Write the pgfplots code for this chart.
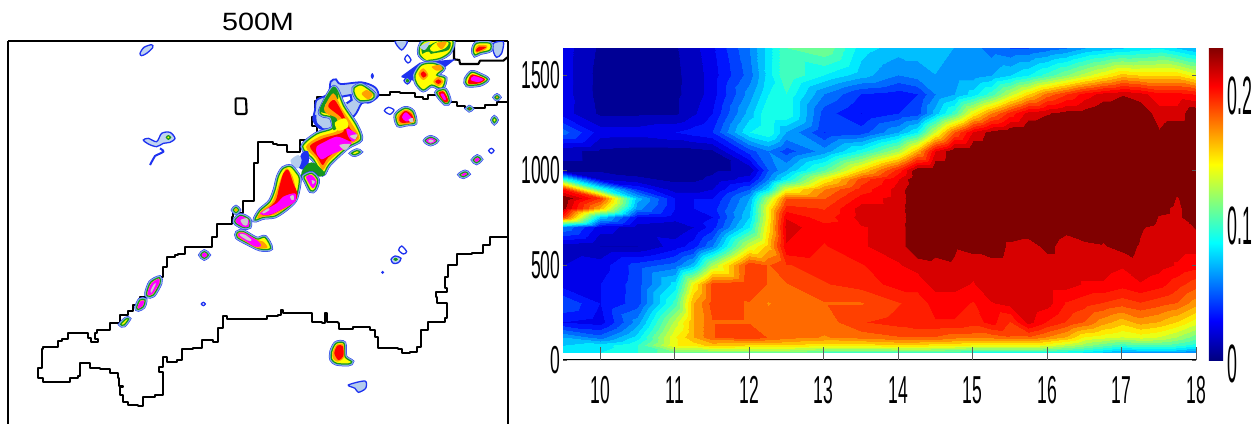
\documentclass[border=0pt]{standalone}
\usepackage{pgfplots}
\pgfplotsset{compat=1.18}
\usepackage{fontspec}
\setmainfont{Liberation Sans}
\newfontfamily\condf[FakeStretch=0.45]{Liberation Sans}
\newfontfamily\condg[FakeStretch=0.33]{Liberation Sans}
\newfontfamily\widef[FakeStretch=1.15]{Liberation Sans}
\definecolor{rimblue}{RGB}{30,50,240}
\definecolor{rimlight}{RGB}{130,170,225}
\definecolor{rimgreen}{RGB}{20,150,30}
\definecolor{ryellow}{RGB}{255,255,0}
\definecolor{rorange}{RGB}{255,160,0}
\definecolor{rred}{RGB}{255,0,0}
\definecolor{rmag}{RGB}{255,0,255}
\definecolor{rgray}{RGB}{205,205,205}
\newcommand\rim[1]{%
 \addplot[draw=rimblue,line width=4.6pt,smooth cycle] coordinates {#1};
 \addplot[draw=rimlight,line width=3.6pt,smooth cycle] coordinates {#1};
 \addplot[draw=rimgreen,fill=ryellow,line width=1.2pt,smooth cycle] coordinates {#1};}
\newcommand\lev[2]{\addplot[fill=#1,draw=none,smooth cycle] coordinates {#2};}
\newcommand\ring[1]{\addplot[draw=rimblue,fill=white,line width=1.3pt,smooth cycle] coordinates {#1};}
\newcommand\ringl[1]{\addplot[draw=rimblue,fill=rimlight!50,line width=1.3pt,smooth cycle] coordinates {#1};}
\begin{document}
\begin{tikzpicture}
\path[use as bounding box] (0,0) rectangle (1259pt,424pt);
% ---------- left map
\begin{axis}[at={(8pt,0pt)},anchor=south west,scale only axis,width=500pt,height=383pt,
 xmin=24,xmax=1524,ymin=123,ymax=1272,y dir=reverse,
 axis x line=top,axis y line=box,ticks=none,
 axis line style={black,line width=1.5pt,-},
 title={\widef\fontsize{25}{25}\selectfont 500M},
 title style={at={(0.5,1)},anchor=south,yshift=1pt}]
\addplot[black,line width=2.1pt,line join=round,const plot] coordinates {(1524,305)(1490,305)(1490,314)(1458,314)(1455,323)(1420,325)(1395,318)(1370,305)(1345,292)(1320,285)(1285,296)(1270,290)(1245,280)(1215,278)(1200,275)(1175,275)(1170,285)(1135,287)(1060,290)(950,303)(945,350)(935,378)(950,395)(985,395)(950,420)(900,455)(875,455)(860,435)(830,432)(820,425)(785,425)(775,435)(775,490)(763,495)(763,602)(730,610)(728,640)(700,650)(695,672)(650,682)(650,710)(635,715)(635,742)(560,742)(555,762)(535,765)(525,772)(503,772)(500,800)(490,810)(490,830)(470,860)(440,890)(420,915)(400,932)(385,945)(360,970)(330,990)(290,1000)(285,1018)(295,1025)(272,1015)(265,1000)(220,998)(205,1018)(185,1022)(175,1040)(130,1048)(125,1105)(115,1115)(115,1135)(130,1147)(205,1147)(210,1135)(235,1128)(240,1090)(250,1088)(270,1105)(300,1108)(330,1120)(355,1135)(358,1158)(368,1162)(360,1185)(368,1205)(385,1215)(415,1217)(430,1190)(465,1185)(490,1160)(490,1115)(478,1100)(490,1070)(500,1085)(530,1080)(545,1048)(580,1045)(605,1020)(640,1025)(655,985)(670,948)(682,958)(795,958)(800,948)(835,945)(842,930)(848,938)(915,938)(935,965)(965,968)(975,938)(982,965)(1015,970)(1018,988)(1050,988)(1060,980)(1110,990)(1125,1010)(1135,1045)(1195,1048)(1205,1058)(1230,1055)(1250,1040)(1262,990)(1285,965)(1335,955)(1340,910)(1310,890)(1308,875)(1340,865)(1335,830)(1345,795)(1370,762)(1415,758)(1450,735)(1470,710)(1524,708)};
\addplot[black,line width=2.1pt,line join=round] coordinates {(1362,123)(1362,178)(1378,180)(1380,192)(1435,192)(1440,182)(1510,182)(1522,172)};
\addplot[black,line width=2.1pt,line join=round,rounded corners=2pt] coordinates {(707,295)(738,295)(740,342)(707,342)(707,295)};
% small blobs: blue
\ringl{(420,160)(432,142)(455,134)(458,143)(440,160)(425,167)}
\addplot[rimblue,line width=2pt,smooth] coordinates {(480,445)(490,455)(465,468)(458,480)(450,495)};
\ringl{(430,420)(445,415)(470,425)(485,400)(510,397)(525,415)(510,427)(490,430)(470,440)(445,432)}
\lev{rimgreen}{(497,412)(505,405)(514,412)(505,420)}
\lev{ryellow}{(502,412)(505,409)(508,412)(505,415)}
\ring{(604,912)(610,907)(616,912)(610,917)}
\lev{rimblue}{(1143,817)(1148,812)(1153,817)(1148,822)}
\ringl{(1173,778)(1185,768)(1203,775)(1195,788)(1180,790)}
\lev{rimgreen}{(1180,778)(1187,773)(1194,778)(1187,783)}
\ring{(1196,750)(1205,738)(1220,755)(1210,762)}
\ring{(1466,452)(1474,445)(1482,452)(1474,460)}
\ring{(1153,332)(1165,322)(1182,330)(1170,343)}
\ring{(1214,177)(1222,165)(1233,180)(1224,189)}
\lev{rimblue}{(1112,228)(1117,219)(1122,228)(1117,237)}
\addplot[draw=rimblue,fill=rimlight!60,line width=1.3pt,smooth cycle] coordinates {(1045,1155)(1095,1143)(1097,1165)(1075,1177)(1065,1165)};
\addplot[draw=rimblue,fill=rimlight!60,line width=1.3pt,smooth cycle] coordinates {(1185,123)(1222,123)(1205,150)};
\addplot[draw=rimblue,fill=rimlight!60,line width=1.3pt,smooth cycle] coordinates {(1480,130)(1510,125)(1505,160)(1490,172)(1480,155)};
% top-right clusters
\addplot[draw=rimblue,fill=rimblue,line width=1.3pt] coordinates {(1205,230)(1260,190)(1360,180)(1270,250)(1240,240)(1205,230)};
\rim{(1258,160)(1272,125)(1355,120)(1350,155)(1320,175)(1280,180)}
\lev{rimgreen}{(1265,140)(1290,135)(1310,125)(1350,125)(1345,150)(1300,160)(1270,165)}
\lev{ryellow}{(1290,145)(1310,127)(1345,127)(1335,145)(1300,155)}
\lev{rorange}{(1310,130)(1340,125)(1325,148)}
\lev{ryellow}{(1265,165)(1285,155)(1295,170)(1280,180)}
\lev{rimlight!60}{(1260,140)(1290,125)(1275,150)}
\rim{(1245,225)(1265,195)(1300,190)(1330,205)(1310,225)(1335,235)(1325,265)(1295,255)(1270,270)(1250,250)}
\lev{rorange}{(1255,222)(1270,205)(1285,225)(1270,240)}
\lev{rred}{(1262,222)(1270,214)(1280,225)(1270,233)}
\lev{rorange}{(1300,245)(1315,230)(1330,245)(1315,258)}
\lev{rred}{(1306,245)(1315,238)(1324,245)(1315,252)}
\lev{rorange}{(1295,200)(1320,195)(1328,208)(1310,212)}
\ringl{(1212,242)(1222,232)(1232,242)(1222,252)}
\lev{rimgreen}{(1217,242)(1222,236)(1228,242)(1222,248)}
\rim{(1310,278)(1335,270)(1348,303)(1335,310)}
\lev{rred}{(1315,279)(1332,275)(1345,302)(1334,307)}
\lev{rmag}{(1322,283)(1330,281)(1338,298)(1332,300)}
\rim{(1420,150)(1430,130)(1470,130)(1470,150)(1440,158)(1425,165)}
\lev{rorange}{(1425,148)(1435,135)(1462,137)(1455,150)(1430,158)}
\lev{rred}{(1428,150)(1438,140)(1458,142)(1432,155)}
\rim{(1398,238)(1415,217)(1440,225)(1462,238)(1440,253)(1402,255)}
\lev{rred}{(1405,240)(1417,223)(1455,237)(1438,250)(1406,252)}
\lev{rmag}{(1412,240)(1421,228)(1450,238)(1434,246)}
\rim{(1188,345)(1215,325)(1238,335)(1245,368)(1220,372)(1195,375)}
\lev{rorange}{(1192,348)(1215,329)(1236,338)(1243,366)(1200,373)}
\lev{rred}{(1198,352)(1215,333)(1234,342)(1240,364)(1203,368)}
\lev{rmag}{(1206,352)(1218,337)(1237,358)(1218,364)}
\lev{rgray}{(1226,358)(1238,354)(1240,366)(1230,366)}
\rim{(1276,422)(1292,412)(1310,422)(1292,432)}
\lev{rmag}{(1278,422)(1292,414)(1308,422)(1292,431)}
\lev{rgray}{(1284,423)(1292,418)(1302,423)(1292,428)}
\rim{(1420,480)(1432,470)(1442,478)(1430,488)}
\lev{rmag}{(1423,480)(1432,473)(1439,478)(1430,486)}
\rim{(1380,524)(1395,516)(1404,522)(1390,530)}
\lev{rmag}{(1384,524)(1395,518)(1401,522)(1390,528)}
\rim{(1478,360)(1483,353)(1489,360)(1483,368)}
\rim{(1403,326)(1408,322)(1414,326)(1408,330)}
\lev{rred}{(1406,326)(1408,324)(1411,326)(1408,328)}
\rim{(1485,292)(1491,287)(1497,292)(1491,297)}
\lev{rorange}{(1488,292)(1491,289)(1494,292)(1491,295)}
% main storm: upper part
\addplot[draw=rimblue,fill=rimlight!60,line width=1.8pt,smooth cycle] coordinates {(950,300)(985,282)(992,245)(1008,238)(1022,252)(1085,247)(1125,262)(1135,287)(1110,307)(1085,310)(1062,348)(1000,385)(960,385)(940,360)(945,330)};
\addplot[draw=none,fill=white] coordinates {(1030,288)(1050,288)(1050,305)(1030,305)};
\addplot[rimblue,line width=2pt] coordinates {(1025,290)(1052,285)(1055,300)(1040,310)};
\addplot[rimblue,line width=2.5pt,smooth] coordinates {(945,345)(948,370)(965,385)};
\rim{(962,330)(1002,262)(1032,320)(1068,375)(1082,418)(1042,442)(988,492)(968,522)(942,480)(908,440)(950,402)(998,385)(993,352)(968,345)}
\addplot[draw=none,fill=rimgreen,smooth cycle] coordinates {(958,330)(1000,260)(1015,295)(985,305)(975,320)(1005,345)(1015,375)(1000,390)(990,345)};
\lev{rorange}{(972,325)(1000,280)(1025,325)(1058,375)(1078,415)(1040,438)(988,482)(968,510)(948,476)(918,440)(958,410)(1012,392)(1010,355)(982,342)}
\lev{rred}{(985,320)(1003,300)(1028,340)(1050,385)(1072,412)(1035,433)(985,472)(968,495)(952,470)(930,438)(970,415)(1030,395)(1025,355)}
\lev{ryellow}{(1005,368)(1035,355)(1045,380)(1015,392)}
\lev{rmag}{(950,440)(975,425)(1010,410)(1040,420)(1055,430)(1030,448)(990,465)(965,478)(950,460)}
\lev{rmag}{(1040,385)(1070,403)(1060,425)(1045,410)}
\lev{rgray}{(1050,408)(1072,403)(1065,418)}
\lev{rgray}{(1018,435)(1050,432)(1035,450)}
\rim{(1062,265)(1085,255)(1122,282)(1115,298)(1080,302)(1065,285)}
\lev{rorange}{(1085,282)(1100,270)(1118,283)(1105,298)}
\lev{rimblue}{(895,500)(905,460)(925,455)(925,500)(915,510)}
\lev{rimlight!60}{(872,480)(895,465)(905,480)(895,505)(880,500)}
\rim{(1055,460)(1070,452)(1080,456)(1065,464)}
% main storm: lower part
\addplot[draw=none,fill=rimgreen,smooth cycle] coordinates {(905,515)(925,490)(945,490)(975,520)(960,530)(925,520)(905,535)};
\rim{(765,660)(780,632)(810,605)(825,570)(835,530)(850,505)(872,500)(890,520)(898,535)(895,565)(885,600)(860,625)(825,648)(790,652)}
\lev{rorange}{(772,654)(785,632)(815,608)(830,572)(845,530)(860,505)(878,530)(888,575)(882,605)(857,625)(825,644)(790,650)}
\lev{rred}{(785,642)(825,605)(838,560)(850,520)(865,510)(880,550)(892,580)(885,605)(850,625)(810,645)}
\lev{rmag}{(780,640)(830,610)(850,590)(885,580)(885,605)(850,625)(810,644)}
\lev{rgray}{(787,637)(805,625)(808,630)(792,640)}
\lev{rgray}{(870,590)(880,585)(882,598)(875,600)}
\rim{(912,530)(935,520)(953,540)(945,568)(932,572)(918,545)}
\lev{rmag}{(918,532)(935,525)(950,545)(938,565)}
\lev{rgray}{(935,540)(945,545)(938,553)}
% coastal blobs
\rim{(700,630)(708,622)(716,630)(708,638)}
\lev{rorange}{(704,630)(708,626)(712,630)(708,634)}
\rim{(705,660)(722,646)(747,658)(748,680)(730,682)(708,670)}
\lev{rmag}{(707,660)(722,648)(746,660)(746,680)(730,681)(710,669)}
\lev{rgray}{(722,660)(742,655)(742,675)(730,675)}
\rim{(712,698)(730,695)(770,717)(795,712)(812,745)(780,747)(740,728)(712,712)}
\lev{rorange}{(714,699)(730,696)(770,719)(790,725)(802,743)(770,744)(740,727)(714,711)}
\lev{rmag}{(715,701)(732,698)(775,724)(783,738)(765,740)(740,725)(715,709)}
\lev{rgray}{(720,702)(735,704)(755,720)(745,722)(722,708)}
\rim{(602,765)(613,755)(625,765)(613,775)}
\lev{rmag}{(605,765)(613,757)(622,765)(613,773)}
\rim{(440,878)(452,847)(478,833)(480,850)(460,885)(443,888)}
\lev{rmag}{(443,876)(454,850)(476,836)(478,850)(458,882)(444,886)}
\lev{rgray}{(452,872)(460,855)(468,850)(455,878)}
\rim{(410,922)(420,900)(435,900)(430,920)(415,928)}
\lev{rmag}{(413,920)(422,903)(433,902)(428,918)(415,926)}
\rim{(362,973)(378,957)(386,957)(372,975)}
\rim{(995,1055)(1008,1030)(1032,1030)(1035,1070)(1055,1085)(1045,1092)(1010,1090)(995,1078)}
\lev{rorange}{(998,1058)(1010,1034)(1030,1034)(1032,1072)(1012,1085)(999,1075)}
\lev{rred}{(1003,1060)(1012,1037)(1028,1038)(1030,1068)(1015,1080)}
\end{axis}
% ---------- right contour plot
\begin{axis}[at={(563pt,64pt)},anchor=south west,scale only axis,width=633pt,height=312pt,
 xmin=9.5,xmax=18,ymin=0,ymax=1642,view={0}{90},axis on top,
 axis line style={draw=none},
 xtick={10,11,12,13,14,15,16,17,18},xticklabels={10,11,12,13,14,15,16,17,18},
 ytick={0,500,1000,1500},yticklabels={0,500,1000,1500},
 xtick pos=bottom,
 xtick style={/pgfplots/major tick length=13pt,black!65,line width=0.5pt},
 ytick style={/pgfplots/major tick length=4pt,black!65,line width=0.5pt},
 xticklabel style={font=\condf\fontsize{39}{39}\selectfont,yshift=-13pt},
 yticklabel style={font=\condf\fontsize{39}{39}\selectfont,xshift=1pt},
 colormap={bands}{rgb255(0pt)=(0,0,149) rgb255(9.9pt)=(0,0,149) rgb255(10pt)=(0,0,192) rgb255(19.9pt)=(0,0,192) rgb255(20pt)=(0,0,234) rgb255(29.9pt)=(0,0,234) rgb255(30pt)=(0,21,255) rgb255(39.9pt)=(0,21,255) rgb255(40pt)=(0,64,255) rgb255(49.9pt)=(0,64,255) rgb255(50pt)=(0,106,255) rgb255(59.9pt)=(0,106,255) rgb255(60pt)=(0,149,255) rgb255(69.9pt)=(0,149,255) rgb255(70pt)=(0,191,255) rgb255(79.9pt)=(0,191,255) rgb255(80pt)=(0,234,255) rgb255(89.9pt)=(0,234,255) rgb255(90pt)=(21,255,234) rgb255(99.9pt)=(21,255,234) rgb255(100pt)=(64,255,191) rgb255(109.9pt)=(64,255,191) rgb255(110pt)=(106,255,149) rgb255(119.9pt)=(106,255,149) rgb255(120pt)=(149,255,106) rgb255(129.9pt)=(149,255,106) rgb255(130pt)=(191,255,64) rgb255(139.9pt)=(191,255,64) rgb255(140pt)=(234,255,21) rgb255(149.9pt)=(234,255,21) rgb255(150pt)=(255,234,0) rgb255(159.9pt)=(255,234,0) rgb255(160pt)=(255,191,0) rgb255(169.9pt)=(255,191,0) rgb255(170pt)=(255,149,0) rgb255(179.9pt)=(255,149,0) rgb255(180pt)=(255,106,0) rgb255(189.9pt)=(255,106,0) rgb255(190pt)=(255,64,0) rgb255(199.9pt)=(255,64,0) rgb255(200pt)=(255,30,0) rgb255(209.9pt)=(255,30,0) rgb255(210pt)=(255,0,0) rgb255(219.9pt)=(255,0,0) rgb255(220pt)=(215,0,0) rgb255(229.9pt)=(215,0,0) rgb255(230pt)=(128,0,0) rgb255(240pt)=(128,0,0)},
 point meta min=0,point meta max=0.241,
 colorbar,
 colorbar style={colormap/jet,at={(1.0205,0)},anchor=south west,width=18pt,height=313pt,
  ytick={0.1,0.2},yticklabels={0.1,0.2},axis line style={draw=none},
  major tick length=0pt,ymin=0,ymax=0.241,
  yticklabel style={font=\condg\fontsize{54}{54}\selectfont,xshift=-3pt,yshift=4pt},
  extra y ticks={0},extra y tick labels={0},
  extra y tick style={yticklabel style={yshift=-8pt}}}]
\addplot3[surf,shader=interp,mesh/cols=28] table[row sep=\\] {
x y z\\
9.5 40 .085\\10 40 .09\\10.5 40 .1\\11 40 .12\\11.25 40 .12\\11.5 40 .12\\12 40 .12\\12.25 40 .12\\12.5 40 .12\\13 40 .11\\13.5 40 .11\\14 40 .11\\14.25 40 .11\\14.5 40 .11\\14.75 40 .105\\15 40 .1\\15.25 40 .1\\15.5 40 .1\\15.75 40 .1\\16 40 .1\\16.25 40 .095\\16.5 40 .09\\16.75 40 .08\\17 40 .07\\17.25 40 .07\\17.5 40 .07\\17.75 40 .07\\18 40 .06\\
9.5 80 .08\\10 80 .085\\10.5 80 .1\\11 80 .15\\11.25 80 .155\\11.5 80 .165\\12 80 .16\\12.25 80 .16\\12.5 80 .16\\13 80 .155\\13.5 80 .155\\14 80 .16\\14.25 80 .16\\14.5 80 .155\\14.75 80 .155\\15 80 .15\\15.25 80 .15\\15.5 80 .15\\15.75 80 .15\\16 80 .145\\16.25 80 .135\\16.5 80 .125\\16.75 80 .115\\17 80 .105\\17.25 80 .11\\17.5 80 .11\\17.75 80 .105\\18 80 .095\\
9.5 120 .07\\10 120 .055\\10.5 120 .085\\11 120 .15\\11.25 120 .17\\11.5 120 .19\\12 120 .2\\12.25 120 .19\\12.5 120 .185\\13 120 .18\\13.5 120 .185\\14 120 .19\\14.25 120 .19\\14.5 120 .19\\14.75 120 .185\\15 120 .185\\15.25 120 .185\\15.5 120 .19\\15.75 120 .19\\16 120 .18\\16.25 120 .17\\16.5 120 .15\\16.75 120 .145\\17 120 .14\\17.25 120 .145\\17.5 120 .14\\17.75 120 .13\\18 120 .115\\
9.5 200 .03\\10 200 .025\\10.5 200 .065\\11 200 .135\\11.25 200 .17\\11.5 200 .19\\12 200 .19\\12.25 200 .185\\12.5 200 .19\\13 200 .185\\13.5 200 .2\\14 200 .205\\14.25 200 .21\\14.5 200 .21\\14.75 200 .21\\15 200 .205\\15.25 200 .215\\15.5 200 .2\\15.75 200 .225\\16 200 .21\\16.25 200 .2\\16.5 200 .19\\16.75 200 .175\\17 200 .165\\17.25 200 .175\\17.5 200 .17\\17.75 200 .16\\18 200 .145\\
9.5 300 .05\\10 300 .03\\10.5 300 .045\\11 300 .105\\11.25 300 .17\\11.5 300 .195\\12 300 .19\\12.25 300 .18\\12.5 300 .185\\13 300 .19\\13.5 300 .19\\14 300 .2\\14.25 300 .205\\14.5 300 .215\\14.75 300 .215\\15 300 .21\\15.25 300 .22\\15.5 300 .225\\15.75 300 .23\\16 300 .225\\16.25 300 .21\\16.5 300 .205\\16.75 300 .2\\17 300 .195\\17.25 300 .2\\17.5 300 .195\\17.75 300 .19\\18 300 .175\\
9.5 400 .025\\10 400 .03\\10.5 400 .045\\11 400 .085\\11.25 400 .15\\11.5 400 .195\\12 400 .2\\12.25 400 .19\\12.5 400 .19\\13 400 .2\\13.5 400 .205\\14 400 .215\\14.25 400 .215\\14.5 400 .225\\14.75 400 .225\\15 400 .22\\15.25 400 .23\\15.5 400 .23\\15.75 400 .23\\16 400 .225\\16.25 400 .225\\16.5 400 .22\\16.75 400 .22\\17 400 .215\\17.25 400 .22\\17.5 400 .215\\17.75 400 .205\\18 400 .195\\
9.5 500 .02\\10 500 .025\\10.5 500 .045\\11 500 .055\\11.25 500 .075\\11.5 500 .13\\12 500 .2\\12.25 500 .19\\12.5 500 .2\\13 500 .205\\13.5 500 .21\\14 500 .22\\14.25 500 .225\\14.5 500 .228\\14.75 500 .23\\15 500 .225\\15.25 500 .225\\15.5 500 .225\\15.75 500 .228\\16 500 .225\\16.25 500 .225\\16.5 500 .225\\16.75 500 .225\\17 500 .222\\17.25 500 .228\\17.5 500 .225\\17.75 500 .22\\18 500 .215\\
9.5 600 .015\\10 600 .01\\10.5 600 .01\\11 600 .025\\11.25 600 .035\\11.5 600 .06\\12 600 .14\\12.25 600 .165\\12.5 600 .22\\13 600 .21\\13.5 600 .22\\14 600 .225\\14.25 600 .245\\14.5 600 .235\\14.75 600 .232\\15 600 .235\\15.25 600 .24\\15.5 600 .228\\15.75 600 .225\\16 600 .235\\16.25 600 .225\\16.5 600 .228\\16.75 600 .23\\17 600 .235\\17.25 600 .23\\17.5 600 .225\\17.75 600 .225\\18 600 .225\\
9.5 700 .06\\10 700 .025\\10.5 700 .015\\11 700 .012\\11.25 700 .02\\11.5 700 .035\\12 700 .09\\12.25 700 .155\\12.5 700 .225\\13 700 .215\\13.5 700 .22\\14 700 .225\\14.25 700 .245\\14.5 700 .245\\14.75 700 .245\\15 700 .245\\15.25 700 .245\\15.5 700 .245\\15.75 700 .24\\16 700 .245\\16.25 700 .235\\16.5 700 .24\\16.75 700 .235\\17 700 .245\\17.25 700 .232\\17.5 700 .228\\17.75 700 .225\\18 700 .232\\
9.5 750 .2\\10 750 .08\\10.5 750 .03\\11 750 .025\\11.25 750 .025\\11.5 750 .03\\12 750 .08\\12.25 750 .15\\12.5 750 .22\\13 750 .205\\13.5 750 .225\\14 750 .225\\14.25 750 .245\\14.5 750 .245\\14.75 750 .245\\15 750 .245\\15.25 750 .245\\15.5 750 .245\\15.75 750 .245\\16 750 .245\\16.25 750 .245\\16.5 750 .245\\16.75 750 .245\\17 750 .245\\17.25 750 .245\\17.5 750 .23\\17.75 750 .228\\18 750 .24\\
9.5 800 .235\\10 800 .17\\10.5 800 .065\\11 800 .03\\11.25 800 .03\\11.5 800 .035\\12 800 .075\\12.25 800 .15\\12.5 800 .205\\13 800 .2\\13.5 800 .225\\14 800 .225\\14.25 800 .245\\14.5 800 .245\\14.75 800 .245\\15 800 .245\\15.25 800 .245\\15.5 800 .245\\15.75 800 .245\\16 800 .245\\16.25 800 .245\\16.5 800 .245\\16.75 800 .245\\17 800 .245\\17.25 800 .245\\17.5 800 .235\\17.75 800 .228\\18 800 .245\\
9.5 850 .245\\10 850 .2\\10.5 850 .075\\11 850 .03\\11.25 850 .03\\11.5 850 .03\\12 850 .07\\12.25 850 .13\\12.5 850 .19\\13 850 .19\\13.5 850 .215\\14 850 .225\\14.25 850 .245\\14.5 850 .245\\14.75 850 .245\\15 850 .245\\15.25 850 .245\\15.5 850 .245\\15.75 850 .245\\16 850 .245\\16.25 850 .245\\16.5 850 .245\\16.75 850 .245\\17 850 .245\\17.25 850 .245\\17.5 850 .245\\17.75 850 .23\\18 850 .245\\
9.5 900 .21\\10 900 .1\\10.5 900 .04\\11 900 .015\\11.25 900 .015\\11.5 900 .02\\12 900 .05\\12.25 900 .085\\12.5 900 .145\\13 900 .18\\13.5 900 .205\\14 900 .225\\14.25 900 .245\\14.5 900 .245\\14.75 900 .245\\15 900 .245\\15.25 900 .245\\15.5 900 .245\\15.75 900 .245\\16 900 .245\\16.25 900 .245\\16.5 900 .245\\16.75 900 .245\\17 900 .245\\17.25 900 .245\\17.5 900 .245\\17.75 900 .235\\18 900 .245\\
9.5 950 .1\\10 950 .02\\10.5 950 .012\\11 950 .008\\11.25 950 .008\\11.5 950 .012\\12 950 .025\\12.25 950 .06\\12.5 950 .09\\13 950 .15\\13.5 950 .195\\14 950 .22\\14.25 950 .245\\14.5 950 .245\\14.75 950 .245\\15 950 .245\\15.25 950 .245\\15.5 950 .245\\15.75 950 .245\\16 950 .245\\16.25 950 .245\\16.5 950 .245\\16.75 950 .245\\17 950 .245\\17.25 950 .245\\17.5 950 .245\\17.75 950 .245\\18 950 .245\\
9.5 1000 .008\\10 1000 .008\\10.5 1000 .006\\11 1000 .006\\11.25 1000 .006\\11.5 1000 .008\\12 1000 .012\\12.25 1000 .05\\12.5 1000 .07\\13 1000 .11\\13.5 1000 .16\\14 1000 .205\\14.25 1000 .24\\14.5 1000 .245\\14.75 1000 .245\\15 1000 .245\\15.25 1000 .245\\15.5 1000 .245\\15.75 1000 .245\\16 1000 .245\\16.25 1000 .245\\16.5 1000 .245\\16.75 1000 .245\\17 1000 .245\\17.25 1000 .245\\17.5 1000 .245\\17.75 1000 .245\\18 1000 .245\\
9.5 1100 .012\\10 1100 .008\\10.5 1100 .006\\11 1100 .006\\11.25 1100 .006\\11.5 1100 .008\\12 1100 .045\\12.25 1100 .06\\12.5 1100 .045\\13 1100 .065\\13.5 1100 .095\\14 1100 .13\\14.25 1100 .17\\14.5 1100 .22\\14.75 1100 .24\\15 1100 .245\\15.25 1100 .245\\15.5 1100 .245\\15.75 1100 .245\\16 1100 .245\\16.25 1100 .245\\16.5 1100 .245\\16.75 1100 .245\\17 1100 .245\\17.25 1100 .245\\17.5 1100 .245\\17.75 1100 .245\\18 1100 .245\\
9.5 1200 .055\\10 1200 .025\\10.5 1200 .025\\11 1200 .03\\11.25 1200 .035\\11.5 1200 .04\\12 1200 .09\\12.25 1200 .1\\12.5 1200 .07\\13 1200 .04\\13.5 1200 .045\\14 1200 .07\\14.25 1200 .09\\14.5 1200 .14\\14.75 1200 .19\\15 1200 .222\\15.25 1200 .235\\15.5 1200 .24\\15.75 1200 .245\\16 1200 .245\\16.25 1200 .245\\16.5 1200 .245\\16.75 1200 .245\\17 1200 .245\\17.25 1200 .245\\17.5 1200 .232\\17.75 1200 .24\\18 1200 .245\\
9.5 1300 .025\\10 1300 .008\\10.5 1300 .008\\11 1300 .008\\11.25 1300 .018\\11.5 1300 .03\\12 1300 .075\\12.25 1300 .1\\12.5 1300 .1\\13 1300 .045\\13.5 1300 .03\\14 1300 .04\\14.25 1300 .045\\14.5 1300 .075\\14.75 1300 .105\\15 1300 .15\\15.25 1300 .18\\15.5 1300 .205\\15.75 1300 .225\\16 1300 .23\\16.25 1300 .235\\16.5 1300 .235\\16.75 1300 .245\\17 1300 .245\\17.25 1300 .24\\17.5 1300 .225\\17.75 1300 .225\\18 1300 .24\\
9.5 1400 .025\\10 1400 .006\\10.5 1400 .006\\11 1400 .008\\11.25 1400 .014\\11.5 1400 .025\\12 1400 .065\\12.25 1400 .09\\12.5 1400 .1\\13 1400 .06\\13.5 1400 .04\\14 1400 .035\\14.25 1400 .04\\14.5 1400 .06\\14.75 1400 .07\\15 1400 .085\\15.25 1400 .105\\15.5 1400 .135\\15.75 1400 .16\\16 1400 .185\\16.25 1400 .2\\16.5 1400 .215\\16.75 1400 .225\\17 1400 .23\\17.25 1400 .225\\17.5 1400 .215\\17.75 1400 .215\\18 1400 .21\\
9.5 1500 .025\\10 1500 .006\\10.5 1500 .006\\11 1500 .008\\11.25 1500 .014\\11.5 1500 .025\\12 1500 .055\\12.25 1500 .085\\12.5 1500 .11\\13 1500 .09\\13.5 1500 .075\\14 1500 .06\\14.25 1500 .065\\14.5 1500 .07\\14.75 1500 .065\\15 1500 .065\\15.25 1500 .07\\15.5 1500 .08\\15.75 1500 .09\\16 1500 .105\\16.25 1500 .12\\16.5 1500 .135\\16.75 1500 .15\\17 1500 .165\\17.25 1500 .16\\17.5 1500 .16\\17.75 1500 .16\\18 1500 .145\\
9.5 1642 .025\\10 1642 .008\\10.5 1642 .008\\11 1642 .009\\11.25 1642 .016\\11.5 1642 .028\\12 1642 .06\\12.25 1642 .085\\12.5 1642 .11\\13 1642 .12\\13.5 1642 .085\\14 1642 .075\\14.25 1642 .075\\14.5 1642 .075\\14.75 1642 .07\\15 1642 .065\\15.25 1642 .055\\15.5 1642 .05\\15.75 1642 .05\\16 1642 .055\\16.25 1642 .06\\16.5 1642 .07\\16.75 1642 .075\\17 1642 .08\\17.25 1642 .085\\17.5 1642 .09\\17.75 1642 .08\\18 1642 .07\\
};
\addplot3[black,line width=1.8pt] coordinates {(9.5,0,0)(18,0,0)};
\end{axis}
\end{tikzpicture}
\end{document}
